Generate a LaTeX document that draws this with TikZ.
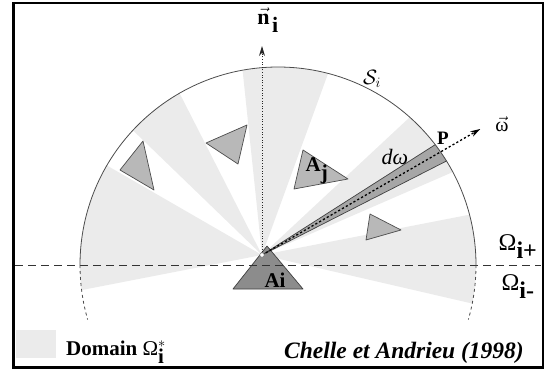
\documentclass[tikz,border=0pt]{standalone}
\usepackage{fontspec}
\setmainfont{Liberation Serif}
\usetikzlibrary{arrows.meta}
\definecolor{domgray}{gray}{0.92}
\definecolor{objgray}{gray}{0.72}
\definecolor{srcgray}{gray}{0.55}
\tikzset{
  domwedge/.style={fill=domgray, draw=none},
  objtri/.style  ={fill=objgray, draw=black!70, line width=0.7pt, line join=round},
  srctri/.style  ={fill=srcgray, draw=black!75, line width=0.7pt, line join=round},
  dband/.style   ={fill=black!35, draw=black!75, line width=0.7pt},
  hemi/.style    ={draw=black!70, line width=0.8pt},
  horizon/.style ={draw=black!80, line width=0.9pt, dash pattern=on 8pt off 5pt},
  nray/.style    ={draw=black!85, line width=1pt, dash pattern=on 1pt off 1.6pt, -{Stealth[length=10pt,width=6pt]}},
  wray/.style    ={draw=black, line width=1.3pt, dash pattern=on 2.2pt off 2.2pt, -{Stealth[length=10pt,width=6pt]}},
  lbl/.style     ={inner sep=0pt, font=\fontsize{#1}{#1}\selectfont},
  lbl/.default=19,
}

\begin{document}
\begin{tikzpicture}[x=1pt,y=1pt]
\useasboundingbox (0,0) rectangle (548,376);
\coordinate (C) at (278,111);   % centre of S_i
\coordinate (O) at (262,121);   % point on Ai
% --- domain Omega_i^* ---
\begin{scope}
  \clip (C) circle[radius=198pt];
  \foreach \a/\b in {150/191,117/136,70/96,23.5/43,-13/11}
    {\fill[domwedge] (O) -- +(\a:300) -- +(\b:300) -- cycle;}
\end{scope}
% --- other surfaces ---
\filldraw[objtri] (120,206) -- (143,235) -- (154,186) -- cycle;
\filldraw[objtri] (206,233) -- (247,251) -- (238,212) -- cycle;
\filldraw[objtri] (303,226) -- (348,197) -- (294,187) -- cycle;
\filldraw[objtri] (370,162) -- (401,146) -- (366,136) -- cycle;
\filldraw[srctri] (233,87) -- (267,130) -- (303,87) -- cycle;
% --- horizon and hemisphere ---
\coordinate (hl) at (15,111);
\coordinate (hr) at (541,111);
\draw[horizon] (hl) -- (hr);
\begin{scope}
  \clip (C) circle[radius=198pt];
  \filldraw[dband] (O) -- +(27:300) -- +(32.5:300) -- cycle;
\end{scope}
\draw[hemi] (C) ++(0:198) arc[start angle=0, end angle=180, radius=198pt];
\draw[hemi, dashed] (C) ++(180:198) arc[start angle=180, end angle=196, radius=198pt];
\draw[hemi, dashed] (C) ++(0:198) arc[start angle=0, end angle=-16, radius=198pt];
% --- directions ---
\coordinate (ntip) at (262,330);
\path (O) ++(30:252) coordinate (wtip);
\draw[nray] (O) -- (ntip);
\draw[wray] (O) -- (wtip);
\draw[black!50, fill=white, line width=0.5pt] (O) circle[radius=2.2pt];
% --- labels ---
\node[lbl=22] (nlbl) at (268,356) {$\vec{\mbox{\bfseries n}}_{\,\mbox{\bfseries i}}$};
\node[lbl=21] (slbl) at (372,297) {$\mathcal{S}_i$};
\node[lbl=21] (ajlbl) at (317,205) {\textbf{A}$_{\mbox{\bfseries j}}$};
\node[lbl=21] (ailbl) at (275,96) {\textbf{Ai}};
\node[lbl=19] (plbl) at (443,238) {\textbf{P}};
\node[lbl=22] (dwlbl) at (395,219) {\textit{dω}};
\node[lbl=20] (wlbl) at (502,252) {$\vec{\mbox{ω}}$};
\node[lbl=24] (ipl) at (518,129) {Ω$_{\mbox{\bfseries i+}}$};
\node[lbl=24] (iml) at (518,89) {Ω$_{\mbox{\bfseries i-}}$};
% --- legend ---
\fill[domwedge] (16,18) rectangle (56,46);
\node[lbl=21, anchor=base west] (dom) at (66,21) {\textbf{Domain} Ω$^{*}_{\mbox{\bfseries i}}$};
\node[lbl=23.5, anchor=base east] (ref) at (524,18) {\textbf{\textit{Chelle et Andrieu (1998)}}};
\draw[line width=2.5pt] (13.5,8.5) rectangle (543,373);
\end{tikzpicture}
\end{document}
